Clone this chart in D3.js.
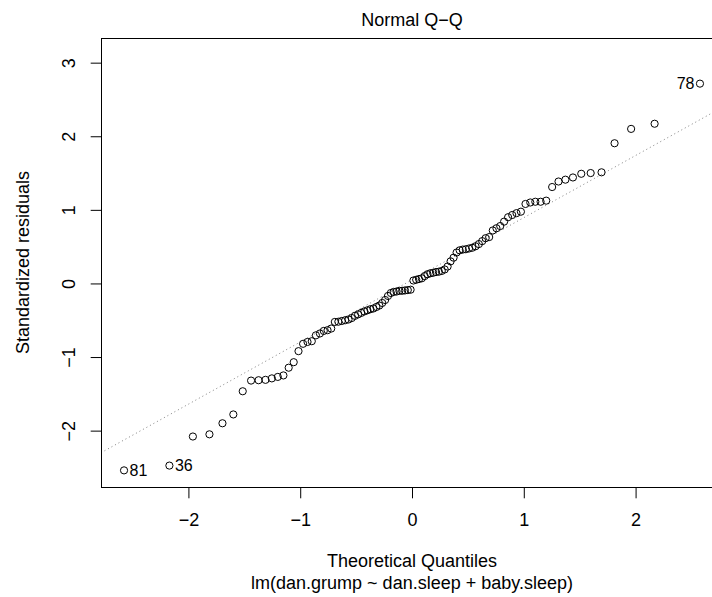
<!DOCTYPE html>
<html>
<head>
<meta charset="utf-8">
<script src="https://cdn.jsdelivr.net/npm/d3@7"></script>
<style>
  html, body { margin: 0; padding: 0; background: #fff; }
  svg { display: block; }
  text { font-family: "Liberation Sans", Arial, Helvetica, sans-serif; fill: #000; }
</style>
</head>
<body>
<svg id="chart" width="712" height="597"></svg>
<script>
// Theoretical normal quantiles (n = 100), sorted
const theoretical = [
  -2.5758, -2.1701, -1.9600, -1.8119, -1.6954, -1.5982, -1.5141, -1.4395, -1.3722, -1.3106,
  -1.2536, -1.2004, -1.1503, -1.1031, -1.0581, -1.0152, -0.9741, -0.9346, -0.8965, -0.8596,
  -0.8239, -0.7892, -0.7554, -0.7225, -0.6903, -0.6588, -0.6280, -0.5978, -0.5681, -0.5388,
  -0.5101, -0.4817, -0.4538, -0.4261, -0.3989, -0.3719, -0.3451, -0.3186, -0.2924, -0.2663,
  -0.2404, -0.2147, -0.1891, -0.1637, -0.1383, -0.1130, -0.0878, -0.0627, -0.0376, -0.0125,
   0.0125,  0.0376,  0.0627,  0.0878,  0.1130,  0.1383,  0.1637,  0.1891,  0.2147,  0.2404,
   0.2663,  0.2924,  0.3186,  0.3451,  0.3719,  0.3989,  0.4261,  0.4538,  0.4817,  0.5101,
   0.5388,  0.5681,  0.5978,  0.6280,  0.6588,  0.6903,  0.7225,  0.7554,  0.7892,  0.8239,
   0.8596,  0.8965,  0.9346,  0.9741,  1.0152,  1.0581,  1.1031,  1.1503,  1.2004,  1.2536,
   1.3106,  1.3722,  1.4395,  1.5141,  1.5982,  1.6954,  1.8119,  1.9600,  2.1701,  2.5758
];

// Sorted standardized residuals
const residuals = [
  -2.54, -2.475, -2.08, -2.05, -1.90, -1.78, -1.465, -1.32, -1.315, -1.31,
  -1.29, -1.27, -1.25, -1.145, -1.07, -0.92, -0.82, -0.795, -0.785, -0.705,
  -0.68, -0.645, -0.635, -0.613, -0.523, -0.52, -0.51, -0.50, -0.49, -0.47,
  -0.44, -0.42, -0.40, -0.38, -0.365, -0.35, -0.34, -0.32, -0.30, -0.265,
  -0.225, -0.17, -0.13, -0.115, -0.11, -0.10, -0.10, -0.095, -0.09, -0.085,
   0.04, 0.05, 0.06, 0.07, 0.10, 0.125, 0.138, 0.145, 0.155, 0.16,
   0.17, 0.19, 0.23, 0.30, 0.35, 0.42, 0.45, 0.46, 0.465, 0.475,
   0.485, 0.505, 0.535, 0.575, 0.615, 0.63, 0.72, 0.75, 0.78, 0.84,
   0.90, 0.93, 0.955, 0.975, 1.08, 1.10, 1.11, 1.11, 1.125, 1.31,
   1.385, 1.41, 1.44, 1.49, 1.50, 1.51, 1.905, 2.10, 2.17, 2.715
];

// Identified points: rank in sorted order (0-based) and observation label
const labelRanks = [0, 1, 99];
const labelNames = ["81", "36", "78"];

const xTicks = [-2, -1, 0, 1, 2];
const yTicks = [-2, -1, 0, 1, 2, 3];

const titleText = "Normal Q\u2212Q";
const xLabel = "Theoretical Quantiles";
const yLabel = "Standardized residuals";
const subLabel = "lm(dan.grump ~ dan.sleep + baby.sleep)";

// ---- layout ----
const box = { left: 101, top: 38, right: 723, bottom: 487 };
const FS = 18;       // base font size
const LINE = 21.6;   // margin line height
const fmt = v => (v < 0 ? "\u2212" + Math.abs(v) : String(v));

const svg = d3.select("#chart");

// domains as R does (4% expansion; y top extended 7.5% for labels)
const xr = d3.extent(theoretical);
const xpad = (xr[1] - xr[0]) * 0.04;
const yr = d3.extent(residuals);
yr[1] = yr[1] + (yr[1] - yr[0]) * 0.075;
const ypad = (yr[1] - yr[0]) * 0.04;

const x = d3.scaleLinear().domain([xr[0] - xpad, xr[1] + xpad]).range([box.left, box.right]);
const y = d3.scaleLinear().domain([yr[0] - ypad, yr[1] + ypad]).range([box.bottom, box.top]);

svg.append("clipPath").attr("id", "clip")
  .append("rect").attr("x", box.left).attr("y", box.top)
  .attr("width", box.right - box.left).attr("height", box.bottom - box.top);

// qq line through quartiles
const q1 = d3.quantile(residuals, 0.25), q3 = d3.quantile(residuals, 0.75);
const t1 = -0.6744898, t3 = 0.6744898;
const slope = (q3 - q1) / (t3 - t1);
const intercept = q1 - slope * t1;
const xd = x.domain();
svg.append("line")
  .attr("clip-path", "url(#clip)")
  .attr("x1", x(xd[0])).attr("y1", y(intercept + slope * xd[0]))
  .attr("x2", x(xd[1])).attr("y2", y(intercept + slope * xd[1]))
  .attr("stroke", "#808080").attr("stroke-width", 1)
  .attr("stroke-dasharray", "1,3");

// points
svg.append("g").selectAll("circle")
  .data(residuals.map((r, i) => [theoretical[i], r]))
  .join("circle")
  .attr("cx", d => x(d[0])).attr("cy", d => y(d[1]))
  .attr("r", 3.6)
  .attr("fill", "none").attr("stroke", "#000").attr("stroke-width", 1);

// point labels
const xMean = d3.mean(theoretical);
svg.append("g").selectAll("text")
  .data(labelRanks.map((k, j) => ({ k, name: labelNames[j] })))
  .join("text")
  .attr("x", d => theoretical[d.k] < xMean ? x(theoretical[d.k]) + 5.5 : x(theoretical[d.k]) - 5.5)
  .attr("y", d => y(residuals[d.k]))
  .attr("dy", "0.36em")
  .attr("text-anchor", d => theoretical[d.k] < xMean ? "start" : "end")
  .attr("font-size", 16)
  .text(d => d.name);

// box
svg.append("rect")
  .attr("x", box.left + 0.5).attr("y", box.top + 0.5)
  .attr("width", box.right - box.left).attr("height", box.bottom - box.top)
  .attr("fill", "none").attr("stroke", "#000").attr("stroke-width", 1);

// x axis
const xAxis = d3.axisBottom(x).tickValues(xTicks).tickSize(LINE / 2).tickFormat(fmt);
const gx = svg.append("g").attr("transform", `translate(0,${box.bottom + 0.5})`).call(xAxis);
gx.select(".domain").remove();
gx.selectAll(".tick line").attr("stroke", "#000");
gx.selectAll(".tick text").attr("font-size", FS).attr("font-family", null)
  .attr("y", 0).attr("dy", null).attr("transform", `translate(0,38)`);

// y axis
const yAxis = d3.axisLeft(y).tickValues(yTicks).tickSize(LINE / 2).tickFormat(fmt);
const gy = svg.append("g").attr("transform", `translate(${box.left + 0.5},0)`).call(yAxis);
gy.select(".domain").remove();
gy.selectAll(".tick line").attr("stroke", "#000");
gy.selectAll(".tick text").attr("font-size", FS).attr("font-family", null)
  .attr("x", 0).attr("dy", null)
  .attr("text-anchor", "middle")
  .attr("transform", `translate(-27,0) rotate(-90)`);

// titles
svg.append("text").attr("x", x(0)).attr("y", 26)
  .attr("text-anchor", "middle").attr("font-size", FS).text(titleText);
svg.append("text").attr("x", x(0)).attr("y", 567)
  .attr("text-anchor", "middle").attr("font-size", FS).text(xLabel);
svg.append("text").attr("x", x(0)).attr("y", 589)
  .attr("text-anchor", "middle").attr("font-size", FS).text(subLabel);
svg.append("text")
  .attr("transform", `translate(29,${(box.top + box.bottom) / 2}) rotate(-90)`)
  .attr("text-anchor", "middle").attr("font-size", FS).text(yLabel);
</script>
</body>
</html>
